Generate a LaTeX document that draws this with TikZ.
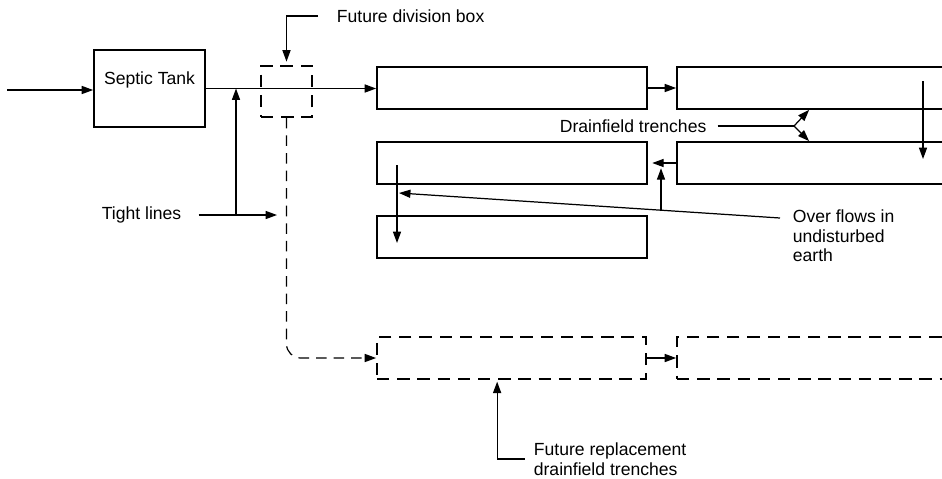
\documentclass[tikz,border=0pt]{standalone}
\usepackage{fontspec}
\setmainfont{Liberation Sans}
\usetikzlibrary{arrows.meta,positioning,calc,fit}

\tikzset{
  trench/.style={draw, line width=1pt, inner sep=0pt},
  futuretrench/.style={trench, dash pattern=on 7pt off 4.5pt},
  flow/.style={line width=0.7pt, -{Triangle[length=6.5pt,width=4.6pt]}},
  lbl/.style={font=\fontsize{10}{11.2}\selectfont, inner sep=2pt, align=left}
}

\begin{document}
\begin{tikzpicture}[x=0.02cm, y=-0.02cm]
\path[use as bounding box, clip] (0,0) rectangle (942,478);

% ================= TANK =================
\node[trench, fit={(94,50) (205,127)}] (tank) {};
\node[lbl, anchor=north] (tanktext) at ([yshift=-0.37cm]tank.north) {Septic Tank};
\coordinate (in) at (7,90);
\draw[flow] (in) -- (in -| tank.west);

% ================= TRENCHES =================
\node[trench, fit={(377,67) (647,109)}] (t1) {};
\node[trench, fit={(677,67) (960,109)}] (t2) {};
\node[trench, fit={(377,142) (647,184)}] (t3) {};
\node[trench, fit={(677,142) (960,184)}] (t4) {};
\node[trench, fit={(377,216) (647,258)}] (t5) {};

\draw[flow] (tank.east) -- (tank.east -| t1.west);
\draw[flow] (t1.east) -- (t2.west);
\coordinate (s2) at (923,81);
\coordinate (s4) at (923,159);
\draw[flow] (s2) -- (s4);
\draw[flow, shorten >=2.5pt] (t4.west) -- (t3.east);
\coordinate (s3) at (397,165);
\coordinate (s5) at (397,243);
\draw[flow] (s3) -- (s5);

% Tight lines
\node[lbl, anchor=west] (tight) at (98,215) {Tight lines};
\coordinate (tightend) at (277,215);
\coordinate (tj) at (236,215);
\draw[flow] ([xshift=0.27cm]tight.east) -- (tightend);
\draw[flow] (tj) -- (tj |- tank.east);

% ================= FUTURE =================
\node[futuretrench, fit={(261,66) (312,117)}] (divbox) {};
\node[lbl, anchor=west] (divtext) at (333,16) {Future division box};
\draw[flow, shorten >=2pt] ([xshift=-0.3cm]divtext.west) -| (divbox.north);

\node[futuretrench, fit={(377,337) (646,379)}] (f1) {};
\node[futuretrench, fit={(677,337) (960,379)}] (f2) {};
\draw[flow, dash pattern=on 6pt off 4pt, rounded corners=8pt] (divbox.south) |- (f1.west);
\draw[flow] (f1.east) -- (f2.west);

\node[lbl, anchor=west] (futtext) at (530,459) {Future replacement\\drainfield trenches};
\draw[flow, shorten >=1pt] ([xshift=-0.11cm]futtext.west) -| ($(f1.south west)+(121,0)$);

% Labels
\node[lbl, anchor=west] (dtext) at (556,126) {Drainfield trenches};
\coordinate (dj) at (794,126);
\draw[line width=0.7pt] ([xshift=0.15cm]dtext.east) -- (dj);
\draw[flow] (dj) -- ($(t2.south west)+(133,0)$);
\draw[flow] (dj) -- ($(t4.north west)+(133,0)$);

\node[lbl, anchor=west] (overtext) at (789,236) {Over flows in\\undisturbed\\earth};
\coordinate (ovtip) at (399,193);
\coordinate (ovup) at (661,211);
\draw[flow] ([shift={(-9,-18)}]overtext.west) -- (ovtip);
\draw[flow, shorten >=3pt] (ovup) -- (ovup |- t4.west);

\end{tikzpicture}
\end{document}
